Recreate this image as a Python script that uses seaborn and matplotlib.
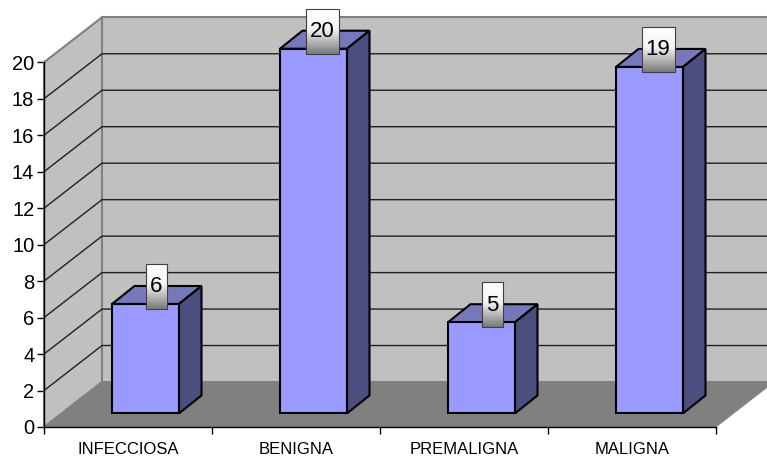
import matplotlib
matplotlib.use("Agg")
import matplotlib.pyplot as plt
import numpy as np
import pandas as pd
import seaborn as sns
from matplotlib.colors import LinearSegmentedColormap
from matplotlib.patches import Polygon

categories = ["INFECCIOSA", "BENIGNA", "PREMALIGNA", "MALIGNA"]
values = [6, 20, 5, 19]
y_ticks = list(range(0, 21, 2))

sns.set_theme(style="white")
plt.rcParams["font.family"] = ["Liberation Sans", "DejaVu Sans"]

W, H = 767, 459
fig = plt.figure(figsize=(W / 100, H / 100), dpi=100, facecolor="white")
ax = fig.add_axes([44 / W, (H - 427) / H, 672 / W, 364.7 / H])

table = pd.DataFrame({"tipo": categories, "casos": values})
sns.barplot(data=table, x="tipo", y="casos", order=categories, width=67 / 168,
            color="#9999FF", saturation=1, edgecolor="black", linewidth=1.5,
            ax=ax, zorder=4)
ax.set_xlim(-0.5, 3.5)
ax.set_ylim(0, 20)
ax.set_xlabel("")
ax.set_ylabel("")

# Pixel distances of the oblique projection expressed in data units
PX = 1 / 168
PY = 20 / 364.7
WALL_DX, WALL_DY = 58 * PX, 45 * PY
BAR_FX, BAR_FY = 17.5 * PX, 13.6 * PY
BAR_DX, BAR_DY = 22.5 * PX, 18 * PY


def face(points, **kw):
    ax.add_patch(Polygon(points, closed=True, clip_on=False, **kw))


x0, x1 = -0.5, 3.5
wall_edge = dict(edgecolor="#808080", linewidth=1.5, joinstyle="miter")
# Left wall, back wall and floor of the chart box
face([(x0, 0), (x0 + WALL_DX, WALL_DY), (x0 + WALL_DX, 20 + WALL_DY), (x0, 20)],
     facecolor="#C0C0C0", zorder=1, **wall_edge)
face([(x0 + WALL_DX, WALL_DY), (x1 + WALL_DX, WALL_DY),
      (x1 + WALL_DX, 20 + WALL_DY), (x0 + WALL_DX, 20 + WALL_DY)],
     facecolor="#C0C0C0", zorder=1, **wall_edge)
face([(x0, 0), (x1, 0), (x1 + WALL_DX, WALL_DY), (x0 + WALL_DX, WALL_DY)],
     facecolor="#808080", edgecolor="#808080", linewidth=0.5, zorder=1.5)

# Gridlines run along the left wall and then across the back wall
for v in y_ticks[1:-1]:
    ax.plot([x0, x0 + WALL_DX, x1 + WALL_DX], [v, v + WALL_DY, v + WALL_DY],
            color="#202020", lw=1.0, clip_on=False, zorder=2,
            solid_joinstyle="miter")

# Move the front faces off the wall and add the top and side of each column
bar_edge = dict(edgecolor="black", linewidth=1.5, joinstyle="miter")
cmap = LinearSegmentedColormap.from_list(
    "label", [(0, "#FFFFFF"), (0.45, "#F4F4F4"), (1, "#7A7A7A")])
gradient = np.linspace(0, 1, 64).reshape(-1, 1)
box_w = {1: 21 * PX, 2: 33 * PX}
box_shift = {1: 11 * PX, 2: 8.5 * PX}
for patch, value in zip(ax.patches[:len(values)], values):
    patch.set_x(patch.get_x() + BAR_FX)
    patch.set_y(BAR_FY)
    patch.set_height(value)
    patch.set_clip_on(False)
    patch.set_joinstyle("miter")
    left = patch.get_x()
    right = left + patch.get_width()
    top = BAR_FY + value
    face([(left, top), (left + BAR_DX, top + BAR_DY),
          (right + BAR_DX, top + BAR_DY), (right, top)],
         facecolor="#7777BB", zorder=3.5, **bar_edge)
    face([(right, BAR_FY), (right + BAR_DX, BAR_FY + BAR_DY),
          (right + BAR_DX, top + BAR_DY), (right, top)],
         facecolor="#4D4D80", zorder=3.5, **bar_edge)

    # Value label on a small shaded plate
    text = str(value)
    cx = (left + right) / 2 + box_shift[len(text)]
    half = box_w[len(text)] / 2
    low = top - 5 * PY
    high = top + 40 * PY
    ax.imshow(gradient, cmap=cmap, aspect="auto", origin="upper",
              extent=(cx - half, cx + half, low, high), zorder=5, clip_on=False)
    face([(cx - half, low), (cx + half, low), (cx + half, high), (cx - half, high)],
         facecolor="none", edgecolor="#404040", linewidth=0.8, zorder=5.5)
    ax.text(cx, (low + high) / 2 - 0.5 * PY, text, ha="center", va="center",
            fontsize=16, color="black", zorder=6, clip_on=False)

ax.set_xlim(x0, x1)
ax.set_ylim(0, 20)

for side in ("top", "right"):
    ax.spines[side].set_visible(False)
for side in ("left", "bottom"):
    ax.spines[side].set_visible(True)
    ax.spines[side].set_color("black")
    ax.spines[side].set_linewidth(1.0)
    ax.spines[side].set_zorder(3)

ax.set_yticks(y_ticks)
ax.tick_params(axis="y", which="major", left=True, length=5, width=1.0,
               color="black", pad=2, labelsize=14.5, labelcolor="black")
ax.set_xticks(range(len(categories)))
ax.set_xticklabels(categories)
ax.set_xticks(np.arange(-0.5, 4.0), minor=True)
ax.tick_params(axis="x", which="major", bottom=False, length=0, pad=11,
               labelsize=12, labelcolor="black")
ax.tick_params(axis="x", which="minor", bottom=True, length=5, width=1.0,
               color="black")

fig.savefig("out.png", dpi=100, facecolor="white")
